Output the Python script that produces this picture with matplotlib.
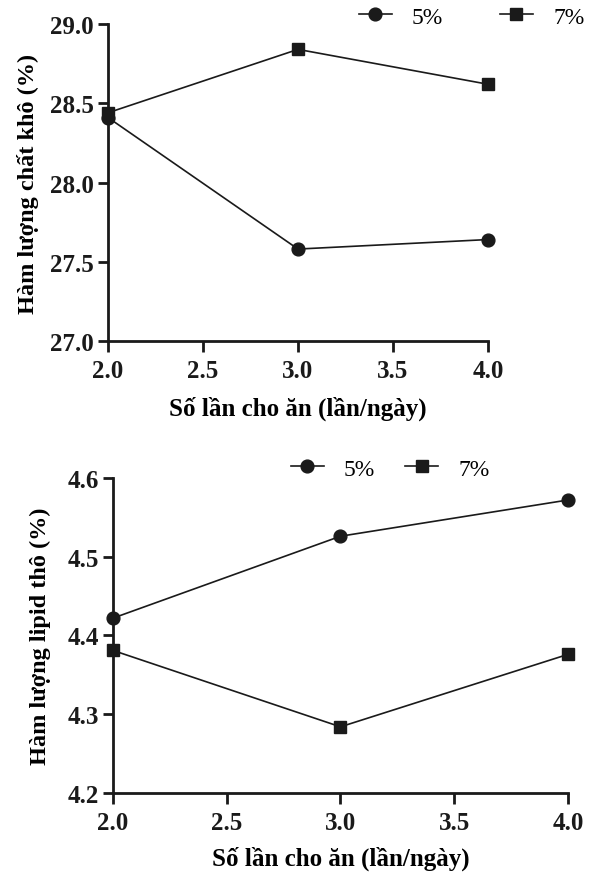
import matplotlib
matplotlib.use("Agg")
import matplotlib.pyplot as plt

# du lieu doc tu hinh
so_lan = [2.0, 3.0, 4.0]
chat_kho_5 = [28.41, 27.58, 27.64]
chat_kho_7 = [28.44, 28.84, 28.62]
lipid_5 = [4.422, 4.526, 4.572]
lipid_7 = [4.381, 4.284, 4.376]
nhan = ["5%", "7%"]

plt.rcParams["font.family"] = ["Liberation Serif", "DejaVu Serif"]
plt.rcParams["font.size"] = 18

fig = plt.figure(figsize=(5.94, 8.78), dpi=100)
ax1 = fig.add_axes([0.1818, 0.6105, 0.6397, 0.361])
ax2 = fig.add_axes([0.1902, 0.0957, 0.766, 0.3588])


def ve(ax, y5, y7, ylim, yticks, ylabel, legend_anchor, col_space, xlabelpad, ylabelpad):
    ax.plot(so_lan, y5, "-o", color="#1a1a1a", lw=1.2, ms=9.2, label=nhan[0], clip_on=False, zorder=3)
    ax.plot(so_lan, y7, "-s", color="#1a1a1a", lw=1.2, ms=9.0, label=nhan[1], clip_on=False, zorder=3)
    ax.set_xlim(2.0, 4.0)
    ax.set_ylim(*ylim)
    ax.set_xticks([2.0, 2.5, 3.0, 3.5, 4.0])
    ax.set_xticklabels(["2.0", "2.5", "3.0", "3.5", "4.0"])
    ax.set_yticks(yticks)
    ax.set_yticklabels([f"{t:.1f}" for t in yticks])
    for s in ["top", "right"]:
        ax.spines[s].set_visible(False)
    for s in ["left", "bottom"]:
        ax.spines[s].set_linewidth(2.0)
        ax.spines[s].set_color("#1a1a1a")
    ax.tick_params(axis="x", direction="out", length=8, width=2.0, colors="#1a1a1a", labelsize=18, pad=5)
    ax.tick_params(axis="y", direction="out", length=7, width=2.0, colors="#1a1a1a", labelsize=18, pad=3)
    for lb in ax.get_xticklabels() + ax.get_yticklabels():
        lb.set_fontweight("bold")
    ax.set_xlabel("Số lần cho ăn (lần/ngày)", fontweight="bold", fontsize=18, labelpad=xlabelpad)
    ax.set_ylabel(ylabel, fontweight="bold", fontsize=17.5, labelpad=ylabelpad)
    ax.legend(loc="center", bbox_to_anchor=legend_anchor, bbox_transform=fig.transFigure,
              ncol=2, frameon=False, fontsize=17, handlelength=1.4, columnspacing=col_space,
              handletextpad=0.85, borderpad=0.2)


ve(ax1, chat_kho_5, chat_kho_7, (27.0, 29.0), [27.0, 27.5, 28.0, 28.5, 29.0],
   "Hàm lượng chất khô (%)", (0.794, 0.9795), 2.4, 9.5, 8)
ve(ax2, lipid_5, lipid_7, (4.2, 4.6), [4.2, 4.3, 4.4, 4.5, 4.6],
   "Hàm lượng lipid thô (%)", (0.657, 0.4647), 1.27, 8, 12)

fig.savefig("out.png", dpi=100)
